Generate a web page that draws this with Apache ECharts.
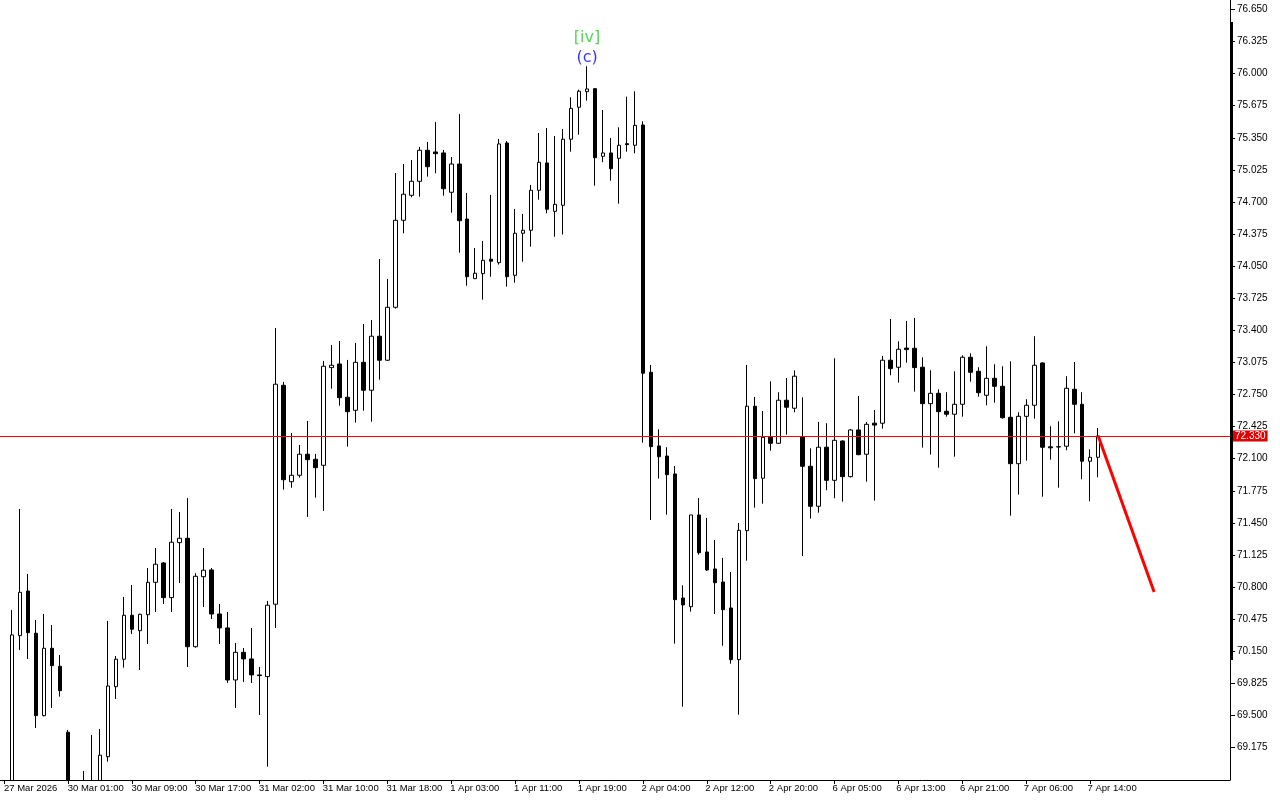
<!DOCTYPE html>
<html>
<head>
<meta charset="utf-8">
<script src="https://cdn.jsdelivr.net/npm/echarts@6/dist/echarts.min.js"></script>
<style>
html,body{margin:0;padding:0;background:#fff;}
#chart{width:1280px;height:800px;}
</style>
</head>
<body>
<div id="chart"></div>
<script>
// ---- trading sessions (day label, first hour, last hour) used to build hourly categories
const sessions = [
  ['27 Mar', 16, 23], ['30 Mar', 1, 23], ['31 Mar', 1, 23], ['1 Apr', 1, 23],
  ['2 Apr', 1, 23], ['6 Apr', 1, 23], ['7 Apr', 1, 23], ['8 Apr', 1, 8]
];
const firstLabel = '27 Mar 2026';
const lastLabelIndex = 136;

// ---- OHLC values (hourly bars)
const opens = [null,68.75,70.308,70.760,70.332,69.498,70.180,69.998,69.330,68.75,68.62,68.78,68.72,69.082,69.791,70.069,70.514,70.358,70.520,70.848,
71.044,70.693,71.250,71.294,70.196,70.905,70.973,70.527,70.386,69.859,70.139,70.072,69.910,69.893,70.626,72.843,71.867,71.932,72.145,72.094,
72.033,73.022,73.059,72.722,72.590,73.076,72.793,73.340,73.097,73.633,74.514,74.767,74.909,75.223,75.206,75.196,74.798,75.084,74.527,73.923,
73.974,74.120,74.085,75.297,73.957,74.383,74.413,74.818,75.095,74.605,74.666,75.335,75.659,75.817,75.847,75.162,75.196,75.142,75.290,75.274,
75.479,72.975,72.229,72.127,71.945,70.689,70.601,71.530,71.155,70.983,70.851,70.588,70.065,71.371,72.631,71.902,72.317,72.256,72.692,72.611,
72.323,72.023,71.618,72.216,71.881,72.279,71.918,72.391,72.145,72.460,72.459,73.097,73.026,73.220,73.218,73.026,72.657,72.762,72.580,72.550,
72.651,73.127,72.985,72.742,72.914,72.833,72.519,72.049,72.529,72.641,73.069,72.220,72.218,72.226,72.803,72.651,72.074,72.114];
const highs = [null,70.568,71.591,70.932,70.467,70.527,70.416,70.112,69.353,68.82,68.938,69.302,69.363,70.457,70.102,70.700,70.821,70.530,70.993,71.196,
71.054,71.591,71.560,71.702,70.940,71.196,70.993,70.629,70.548,70.234,70.183,70.386,69.991,70.659,73.424,72.877,72.360,72.239,72.482,72.148,
73.090,73.252,73.292,73.100,73.272,73.464,73.505,74.122,73.920,74.993,75.084,75.125,75.257,75.307,75.510,75.226,75.155,75.591,74.791,74.234,
74.305,74.771,75.338,75.317,74.629,74.578,74.872,75.398,75.449,75.368,75.439,75.760,75.837,76.074,75.854,75.631,75.348,75.456,75.766,75.821,
75.517,73.049,72.398,72.216,72.026,70.818,71.530,71.702,71.500,71.277,71.095,70.953,71.449,73.049,72.725,72.583,72.884,72.773,72.917,72.995,
72.722,72.205,72.472,72.459,73.117,72.286,72.401,72.735,72.472,72.593,73.140,73.515,73.289,73.495,73.525,73.127,72.995,72.803,72.773,72.985,
73.147,73.167,73.026,73.238,73.056,73.036,73.086,72.570,72.702,73.340,73.076,72.428,72.479,72.935,73.079,72.773,72.195,72.411];
const lows = [null,68.70,70.163,70.072,69.373,69.490,69.576,69.690,68.70,68.55,68.50,68.60,68.62,69.032,69.667,69.984,70.325,69.960,70.224,70.548,
70.629,70.548,70.841,69.991,70.186,70.598,70.477,70.224,69.829,69.576,69.839,69.829,69.505,68.981,70.386,71.786,71.806,71.908,71.510,71.705,
71.571,72.809,72.637,72.222,72.465,72.586,72.475,72.900,73.090,73.620,74.383,74.747,74.753,74.956,74.990,74.763,74.591,74.186,73.852,73.920,
73.710,73.943,74.065,73.842,73.882,74.095,74.247,74.723,74.585,74.348,74.370,75.209,75.381,75.726,74.865,75.102,74.915,74.682,75.209,75.193,
72.262,71.479,71.898,71.533,70.227,69.589,70.551,71.128,70.963,70.527,70.206,70.024,69.508,71.067,71.604,71.644,72.181,72.250,72.343,72.570,
71.115,71.493,71.553,71.780,71.699,71.665,71.910,72.135,71.867,71.675,72.404,72.945,72.870,73.072,72.779,72.212,72.141,72.009,72.525,72.120,
72.525,72.880,72.728,72.641,72.667,72.505,71.523,71.736,72.080,72.505,71.715,72.090,71.806,72.185,72.357,71.891,71.669,71.912];
const closes = [null,70.315,70.747,70.338,69.498,70.180,70.004,69.751,68.80,68.62,68.78,68.70,69.097,69.798,70.069,70.514,70.373,70.524,70.848,71.031,
70.693,71.254,71.294,70.196,70.909,70.970,70.527,70.386,69.859,70.139,70.072,69.910,69.903,70.616,72.854,71.887,71.932,72.145,72.090,72.009,
73.036,73.046,72.718,72.576,73.076,72.793,73.340,73.097,73.633,74.514,74.778,74.909,75.223,75.057,75.189,74.834,75.084,74.510,73.943,73.978,
74.109,74.100,75.287,73.943,74.383,74.413,74.818,75.102,74.626,74.676,75.335,75.648,75.821,75.844,75.148,75.196,75.037,75.274,75.280,75.476,
72.965,72.222,72.120,71.938,70.672,70.619,71.530,71.148,70.973,70.844,70.571,70.065,71.375,72.631,71.898,72.317,72.256,72.692,72.621,72.935,
72.023,71.618,72.216,71.881,72.286,71.918,72.391,72.141,72.448,72.440,73.097,73.012,73.208,73.205,73.022,72.657,72.762,72.576,72.550,72.651,
73.127,72.975,72.768,72.914,72.833,72.515,72.049,72.529,72.641,73.046,72.216,72.210,72.222,72.813,72.651,72.074,72.114,72.330];

// ---- price scale tick labels
const yTickLabels = ['69.175','69.500','69.825','70.150','70.475','70.800','71.125','71.450','71.775','72.100','72.425','72.750',
  '73.075','73.400','73.725','74.050','74.375','74.700','75.025','75.350','75.675','76.000','76.325','76.650'];

// ---- current price line and forecast segment
const currentPrice = 72.330;
const forecastFrom = [137, 72.330];
const forecastTo = [144, 70.750];

// ---- wave labels
const waveLabelBar = 73;
const waveLabelOuter = '[iv]';
const waveLabelInner = '(c)';

// build categories
const categories = [];
sessions.forEach(([d, h0, h1]) => {
  for (let h = h0; h <= h1; h++) categories.push(d + ' ' + String(h).padStart(2, '0') + ':00');
});
categories[0] = firstLabel;

const candleData = opens.map((o, i) => o === null ? '-' : [o, closes[i], lows[i], highs[i]]);
const showTick = (idx) => idx % 8 === 0 && idx <= lastLabelIndex;

const chart = echarts.init(document.getElementById('chart'), null, {renderer: 'canvas'});
const font = 'Liberation Sans';
chart.setOption({
  animation: false,
  backgroundColor: '#ffffff',
  grid: [
    {left: -2, right: 50, top: 0, bottom: 20, containLabel: false},
    {left: -5, right: 53, top: 0, bottom: 20, containLabel: false}
  ],
  xAxis: [{
    type: 'category',
    data: categories,
    boundaryGap: true,
    z: 60,
    axisLine: {show: true, lineStyle: {color: '#000', width: 1}},
    axisTick: {show: true, interval: showTick, alignWithLabel: true, length: 4, lineStyle: {color: '#000'}},
    axisLabel: {show: false},
    splitLine: {show: false}
  }, {
    type: 'category',
    gridIndex: 1,
    data: categories,
    boundaryGap: true,
    z: 60,
    axisLine: {show: false},
    axisTick: {show: false},
    axisLabel: {interval: showTick, align: 'left', margin: 3, color: '#000', fontFamily: font, fontSize: 9.5},
    splitLine: {show: false}
  }],
  yAxis: [{
    type: 'value',
    position: 'right',
    min: 68.846,
    max: 76.745,
    z: 60,
    axisLine: {show: true, lineStyle: {color: '#000', width: 1}},
    axisTick: {show: true, length: 5, customValues: yTickLabels.map(Number), lineStyle: {color: '#000'}},
    axisLabel: {customValues: yTickLabels.map(Number), margin: 7, color: '#000', fontFamily: font, fontSize: 10,
      formatter: v => v.toFixed(3)},
    splitLine: {show: false}
  }, {
    type: 'value', gridIndex: 1, show: false, min: 0, max: 1
  }],
  series: [
    {
      type: 'candlestick',
      data: candleData,
      barWidth: 4,
      clip: true,
      itemStyle: {color: '#ffffff', color0: '#000000', borderColor: '#000000', borderColor0: '#000000', borderWidth: 1},
      emphasis: {disabled: true},
      markLine: {
        silent: true,
        symbol: ['none', 'none'],
        animation: false,
        lineStyle: {color: '#ff0000', width: 1, type: 'solid'},
        label: {show: true, position: 'end', distance: 3, formatter: currentPrice.toFixed(3), color: '#fff',
          backgroundColor: '#e00000', padding: [1, 2, 0, 2], fontFamily: font, fontSize: 10},
        data: [{yAxis: currentPrice}]
      }
    },
    {
      type: 'line',
      data: [forecastFrom, forecastTo],
      symbol: 'none',
      lineStyle: {color: '#ff0000', width: 3},
      clip: false,
      silent: true
    },
    {
      type: 'scatter',
      data: [[waveLabelBar, highs[waveLabelBar]]],
      symbolSize: 0,
      silent: true,
      label: {
        show: true,
        position: 'top',
        distance: 0,
        offset: [0, 2],
        formatter: '{g|' + waveLabelOuter + '}\n{b|' + waveLabelInner + '}',
        rich: {
          g: {color: '#2ecc2e', fontFamily: 'DejaVu Sans', fontSize: 16, lineHeight: 20, align: 'center'},
          b: {color: '#0000ff', fontFamily: 'DejaVu Sans', fontSize: 16, lineHeight: 20, align: 'center'}
        }
      }
    }
  ],
  graphic: [
    {type: 'rect', z: 50, shape: {x: 0, y: 780.5, width: 1231, height: 20}, style: {fill: '#fff'}, silent: true},
    {type: 'rect', z: 55, shape: {x: 1230, y: 22, width: 3, height: 638}, style: {fill: '#000'}, silent: true}
  ]
});
</script>
</body>
</html>
